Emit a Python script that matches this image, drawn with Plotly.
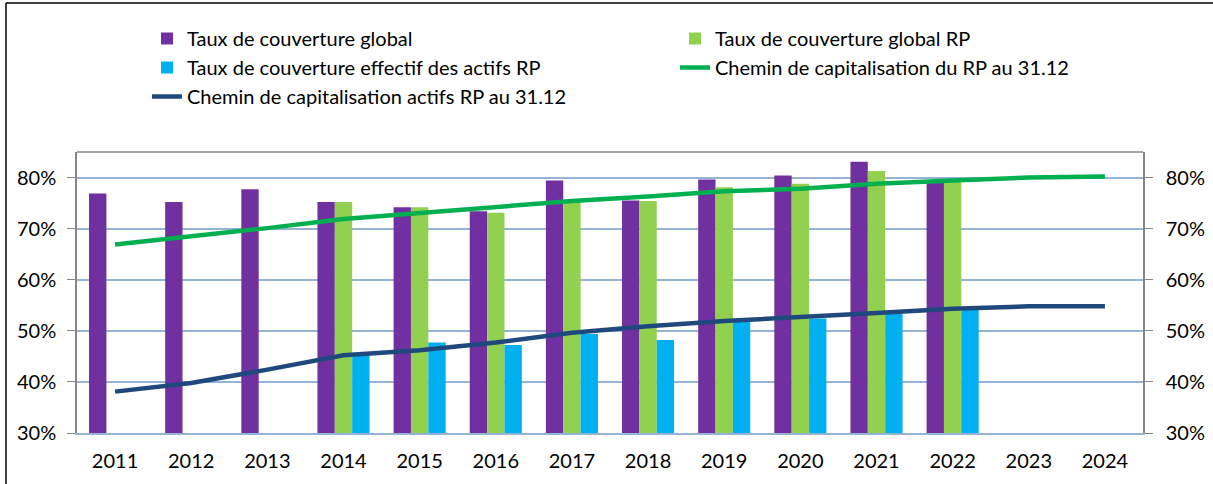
import plotly.graph_objects as go

years = ["2011", "2012", "2013", "2014", "2015", "2016", "2017", "2018", "2019", "2020", "2021", "2022", "2023", "2024"]
taux_global = [76.9, 75.2, 77.7, 75.2, 74.2, 73.4, 79.4, 75.5, 79.6, 80.4, 83.1, 79.5, None, None]
taux_global_rp = [None, None, None, 75.2, 74.2, 73.1, 75.4, 75.4, 78.1, 78.8, 81.3, 79.7, None, None]
taux_effectif_actifs = [None, None, None, 45.2, 47.7, 47.2, 49.4, 48.2, 51.9, 52.4, 53.6, 54.1, None, None]
chemin_rp = [66.9, 68.4, 70.1, 71.9, 73.1, 74.2, 75.4, 76.3, 77.3, 77.8, 78.8, 79.4, 80.0, 80.2]
chemin_actifs = [38.1, 39.8, 42.4, 45.2, 46.2, 47.7, 49.6, 50.9, 51.9, 52.6, 53.5, 54.3, 54.8, 54.8]
tick_vals = [30, 40, 50, 60, 70, 80]
tick_text = ["30%", "40%", "50%", "60%", "70%", "80%"]

FONT = "Lato"
W, H = 1213, 484
L, R, T, B = 77, 70, 152, 51
pw, ph = W - L - R, H - T - B

def px_x(p):
    return (p - L) / pw

def px_y(p):
    return (H - B - p) / ph

fig = go.Figure()
fig.add_trace(go.Bar(x=years, y=taux_global, name="Taux de couverture global",
                     marker=dict(color="#7030A0", line=dict(width=0))))
fig.add_trace(go.Bar(x=years, y=taux_global_rp, name="Taux de couverture global RP",
                     marker=dict(color="#92D050", line=dict(width=0))))
fig.add_trace(go.Bar(x=years, y=taux_effectif_actifs, name="Taux de couverture effectif des actifs RP",
                     marker=dict(color="#00B0F0", line=dict(width=0))))
fig.add_trace(go.Scatter(x=years, y=chemin_rp, name="Chemin de capitalisation du RP au 31.12",
                         mode="lines", line=dict(color="#00B050", width=4.5), yaxis="y2"))
fig.add_trace(go.Scatter(x=years, y=chemin_actifs, name="Chemin de capitalisation actifs RP au 31.12",
                         mode="lines", line=dict(color="#1F497D", width=4.5), yaxis="y2"))

yr = [30, 85.0]
fig.update_layout(
    width=W, height=H,
    margin=dict(l=L, r=R, t=T, b=B, pad=0, autoexpand=False),
    paper_bgcolor="white", plot_bgcolor="white",
    barmode="group", bargap=0.316, bargroupgap=0,
    font=dict(family=FONT, size=20, color="#000000"),
    xaxis=dict(type="category", showgrid=False, ticks="", showline=True,
               linecolor="#95B3D7", linewidth=1.5, tickfont=dict(size=20),
               ticklabelstandoff=9, fixedrange=True),
    yaxis=dict(range=yr, tickvals=tick_vals, ticktext=tick_text, showgrid=True,
               gridcolor="#95B3D7", gridwidth=1.5, zeroline=False, showline=True,
               linecolor="#868686", linewidth=1.5, ticks="outside", ticklen=8,
               tickcolor="#868686", tickfont=dict(size=20), ticklabelstandoff=7),
    yaxis2=dict(range=yr, tickvals=tick_vals, ticktext=tick_text, overlaying="y",
                side="right", showgrid=False, zeroline=False, showline=True,
                linecolor="#868686", linewidth=1.5, ticks="outside", ticklen=8,
                tickcolor="#868686", tickfont=dict(size=20), ticklabelstandoff=9),
    legend=dict(orientation="h", x=px_x(147), y=px_y(19), xanchor="left", yanchor="top",
                entrywidth=483, font=dict(size=20, family=FONT), traceorder="normal",
                bgcolor="rgba(0,0,0,0)"),
    shapes=[
        dict(type="line", xref="paper", yref="paper", x0=0, x1=1, y0=1, y1=1,
             line=dict(color="#868686", width=1.5)),
        dict(type="line", xref="paper", yref="paper", x0=px_x(6), x1=px_x(W), y0=px_y(3), y1=px_y(3),
             line=dict(color="#404040", width=2)),
        dict(type="line", xref="paper", yref="paper", x0=px_x(6), x1=px_x(6), y0=px_y(3), y1=px_y(H),
             line=dict(color="#000000", width=1.5)),
    ],
    showlegend=True,
)

fig.write_html("out.html", config={"displayModeBar": False},
               post_script="document.body.style.margin='0';document.body.style.overflow='hidden';")
